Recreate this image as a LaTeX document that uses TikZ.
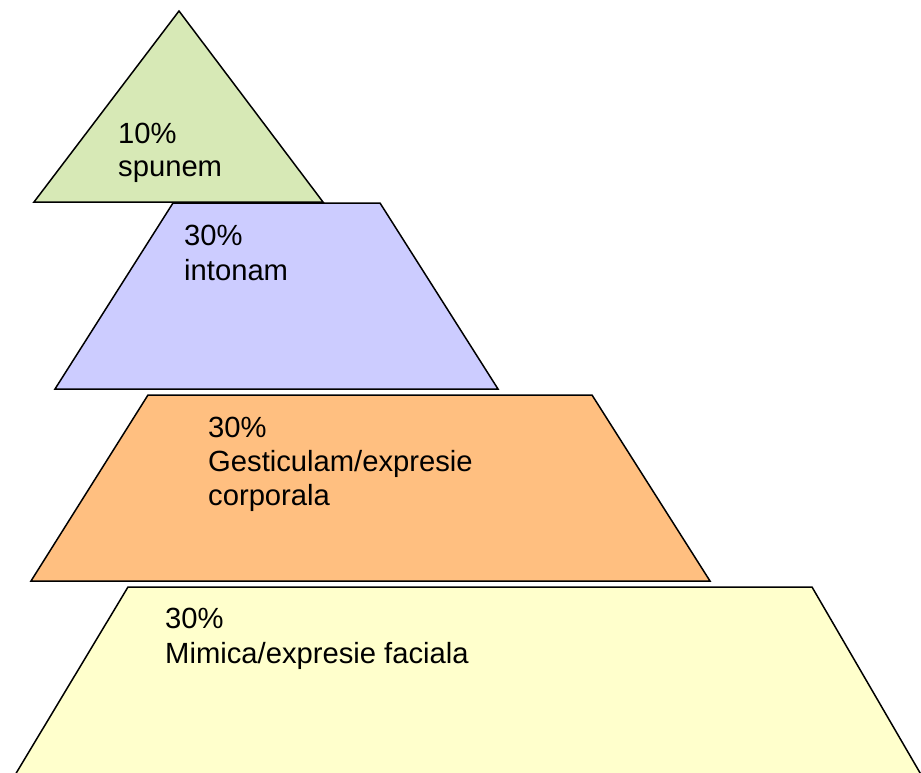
\documentclass[tikz,border=0pt]{standalone}
\usepackage{fontspec}
\setmainfont{Liberation Sans}
\definecolor{cgreen}{HTML}{D7E9B6}
\definecolor{cblue}{HTML}{CCCCFF}
\definecolor{corange}{HTML}{FFBF80}
\definecolor{cyellow}{HTML}{FFFFCC}
\begin{document}
\begin{tikzpicture}[x=1pt,y=-1pt,
  layer/.style={draw=black,line width=1.5pt,line join=miter},
  lbl/.style={anchor=base west,inner sep=0pt,font=\fontsize{29.2}{34}\selectfont}]
\useasboundingbox (0,0) rectangle (921,772);
\clip (0,0) rectangle (921,772);
% layers
\fill[white] (0,0) rectangle (921,772);
\draw[layer,fill=cyellow] (128,587) -- (812,587) -- (930,790) -- (0,800) -- cycle;
\draw[layer,fill=corange] (148,395) -- (592,395) -- (710,581) -- (31,581) -- cycle;
\draw[layer,fill=cblue] (173,203) -- (380,203) -- (498,389) -- (55,389) -- cycle;
\draw[layer,fill=cgreen] (179,11) -- (323,202) -- (34,202) -- cycle;
% labels
\node[lbl] (g1) at (118,143) {10\%};
\node[lbl] (g2) at (118,176) {spunem};
\node[lbl] (b1) at (184,245) {30\%};
\node[lbl] (b2) at (184,280) {intonam};
\node[lbl] (o1) at (208,437) {30\%};
\node[lbl] (o2) at (208,471) {Gesticulam/expresie};
\node[lbl] (o3) at (208,505) {corporala};
\node[lbl] (y1) at (165,628) {30\%};
\node[lbl] (y2) at (165,663) {Mimica/expresie faciala};
\end{tikzpicture}
\end{document}
